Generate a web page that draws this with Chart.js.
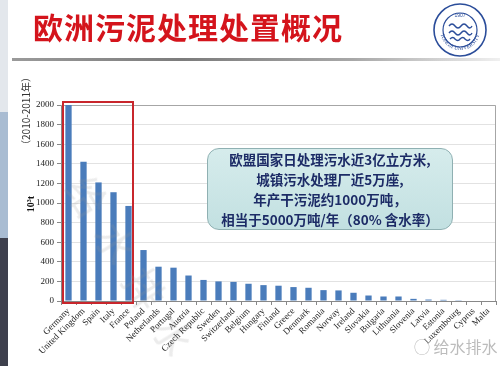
<!DOCTYPE html>
<html>
<head>
<meta charset="utf-8">
<script src="https://cdn.jsdelivr.net/npm/chart.js@4.4.0/dist/chart.umd.min.js"></script>
<style>
  html, body { margin: 0; padding: 0; background: #fff; }
  #slide { position: relative; width: 500px; height: 366px; overflow: hidden; background: #fff; font-family: "Noto Sans CJK SC", sans-serif; }
  #chart { position: absolute; left: 0; top: 0; }
  .band { position: absolute; left: 0; width: 8px; }
  #title { position: absolute; left: 33px; top: 4px; font-size: 30px; font-weight: bold; color: #d4141c; letter-spacing: 1px; white-space: nowrap; }
  #rule { position: absolute; left: 12px; top: 58px; width: 488px; height: 3px;
    background: linear-gradient(to right, #9a9a9a, #7c7c7c 35%, #a8a8a8 70%, #f0f0f0); }
  #logo { position: absolute; left: 432px; top: 2px; }
  #note { position: absolute; left: 207px; top: 148px; width: 244px; height: 80px; border-radius: 12px;
    background: linear-gradient(to bottom, #d6ecec, #c2e0e1); border: 1.5px solid #8fb0b2;
    display: flex; flex-direction: column; justify-content: center; align-items: center;
    font-size: 13.5px; font-weight: bold; color: #1c2b66; line-height: 20px; white-space: nowrap; }
  .ytitle { position: absolute; transform: translate(-50%, -50%) rotate(-90deg); white-space: nowrap; color: #333; }
  #wm { position: absolute; left: 78px; top: 150px; transform: rotate(58deg); transform-origin: left center;
    font-size: 40px; color: rgba(150,150,150,0.18); letter-spacing: 14px; white-space: nowrap; }
  #wm2 { position: absolute; left: 414px; top: 334px; font-size: 16px; color: #bcbcbc; white-space: nowrap; }
</style>
</head>
<body>
<div id="slide">
  <div class="band" style="top:0;height:112px;background:#e3e7ec"></div>
  <div class="band" style="top:112px;height:126px;background:#a9bcd2"></div>
  <div class="band" style="top:238px;height:128px;background:#3e404d"></div>
  <canvas id="chart" width="500" height="366"></canvas>
  <div id="title">欧洲污泥处理处置概况</div>
  <div id="rule"></div>
  <svg id="logo" width="56" height="56" viewBox="0 0 56 56">
    <defs><path id="arc" d="M 8 28 A 20 20 0 0 0 48 28"></path></defs>
    <circle cx="28" cy="28" r="26" fill="#fff" stroke="#2b4d9a" stroke-width="1.6"></circle>
    <circle cx="28" cy="28" r="17" fill="none" stroke="#2b4d9a" stroke-width="1.2"></circle>
    <text x="28" y="15" font-size="5" text-anchor="middle" fill="#2b4d9a" font-family="Liberation Sans">1907</text>
    <text font-size="5.5" fill="#2b4d9a" font-family="Liberation Serif"><textPath href="#arc" startOffset="50%" text-anchor="middle">TONGJI UNIVERSITY</textPath></text>
    <path d="M 17 24 q 3 -4 6 0 q 3 4 6 0 q 3 -4 6 0 q 3 4 5 0 M 17 31 q 3 -4 6 0 q 3 4 6 0 q 3 -4 6 0 q 3 4 5 0 M 18 37 q 3 -3 5 0 q 3 3 5 0 q 3 -3 5 0 q 3 3 5 0" fill="none" stroke="#2b4d9a" stroke-width="1.4"></path>
  </svg>
  <div id="wm">给水排水</div>
  <div class="ytitle" style="left:25px;top:111px;font-size:10px;">（2010-2011年）</div>
  <div class="ytitle" style="left:30px;top:204px;font-size:10px;font-weight:bold;font-family:'Liberation Serif',serif;color:#111;">10³t</div>
  <div id="note">
    <div>欧盟国家日处理污水近3亿立方米,</div>
    <div>城镇污水处理厂近5万座,</div>
    <div>年产干污泥约1000万吨，</div>
    <div>相当于5000万吨/年（80% 含水率）</div>
  </div>
  <div id="wm2">&#9711; 给水排水</div>
</div>
<script>
const countries = ['Germany', 'United Kingdom', 'Spain', 'Italy', 'France', 'Poland', 'Netherlands',
  'Portugal', 'Austria', 'Czech Republic', 'Sweden', 'Switzerland', 'Belgium', 'Hungary', 'Finland',
  'Greece', 'Denmark', 'Romania', 'Norway', 'Ireland', 'Slovakia', 'Bulgaria', 'Lithuania', 'Slovenia',
  'Latvia', 'Estonia', 'Luxembourg', 'Cyprus', 'Malta'];
const sludge = [2000, 1420, 1210, 1110, 970, 520, 350, 340, 260, 215, 200, 195, 176, 162, 156,
  142, 135, 111, 108, 84, 56, 46, 46, 22, 15, 12, 8, 5, 5];
const yMax = 2000;
const yStep = 200;
const highlightCount = 5; // first five countries boxed in red

// frame on top/right of the plot plus the red highlight box
const decorations = {
  id: 'decorations',
  beforeDatasetsDraw(chart) {
    const { ctx, chartArea: a } = chart;
    ctx.save();
    ctx.strokeStyle = '#a6a6a6';
    ctx.lineWidth = 1;
    ctx.beginPath();
    ctx.moveTo(a.left, a.top + 0.5);
    ctx.lineTo(a.right - 0.5, a.top + 0.5);
    ctx.lineTo(a.right - 0.5, a.bottom);
    ctx.stroke();
    ctx.restore();
  },
  afterDatasetsDraw(chart) {
    const { ctx } = chart;
    const x = chart.scales.x, y = chart.scales.y;
    const half = (x.getPixelForValue(1) - x.getPixelForValue(0)) / 2;
    const left = x.getPixelForValue(0) - half + 2;
    const right = x.getPixelForValue(highlightCount - 1) + half - 3;
    const top = y.getPixelForValue(yMax) - 3;
    const bottom = y.bottom + 2;
    ctx.save();
    ctx.strokeStyle = '#c8262c';
    ctx.lineWidth = 2;
    ctx.strokeRect(left, top, right - left, bottom - top);
    ctx.restore();
  }
};

new Chart(document.getElementById('chart'), {
  type: 'bar',
  data: {
    labels: countries,
    datasets: [{
      data: sludge,
      backgroundColor: '#4a7cbb',
      barPercentage: 0.42,
      categoryPercentage: 1.0,
    }],
  },
  options: {
    responsive: false,
    animation: false,
    layout: { padding: { left: 0, top: 105, right: 4, bottom: 0 } },
    plugins: { legend: { display: false }, tooltip: { enabled: false } },
    scales: {
      x: {
        afterFit(scale) { scale.height = 65; },
        grid: { display: true, drawOnChartArea: false, tickLength: 4, color: '#888' },
        border: { color: '#888' },
        ticks: {
          autoSkip: false, maxRotation: 45, minRotation: 45, padding: 1,
          color: '#222', font: { family: 'Liberation Serif', size: 9 },
        },
      },
      y: {
        min: 0, max: yMax,
        afterFit(scale) { scale.width = 61; },
        grid: { color: '#e2e2e2', tickColor: '#888', tickLength: 4 },
        border: { color: '#888' },
        ticks: {
          stepSize: yStep, padding: 3,
          color: '#222', font: { family: 'Liberation Serif', size: 9 },
          callback: (v) => String(v),
        },
      },
    },
  },
  plugins: [decorations],
});
</script>
</body>
</html>
